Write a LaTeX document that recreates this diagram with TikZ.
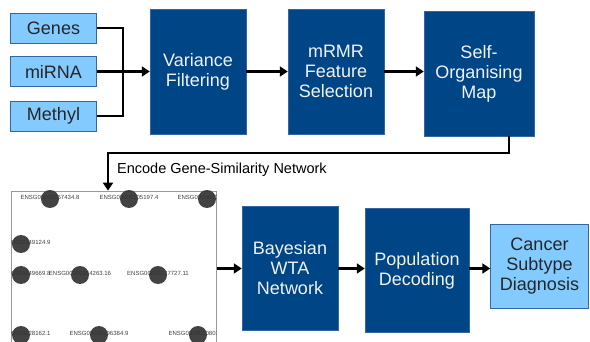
\documentclass[tikz,border=0pt]{standalone}
\usepackage{fontspec}
\setmainfont{Liberation Sans}
\usetikzlibrary{arrows.meta}
\definecolor{darkblue}{HTML}{004586}
\definecolor{lightblue}{HTML}{83CAFF}
\definecolor{boxline}{HTML}{3465A4}
\definecolor{somdot}{HTML}{333333}

\begin{document}
\begin{tikzpicture}[x=1pt,y=-1pt,
  stage/.style={draw=boxline,fill=darkblue,text=white!90!gray,inner sep=0pt,
    align=center,font=\fontsize{18}{20}\selectfont},
  source/.style={draw=boxline,fill=lightblue,text=black!85,inner sep=0pt,
    align=center,font=\fontsize{18}{20}\selectfont},
  flow/.style={line width=2.6pt,-{Triangle[length=8pt,width=10pt]}},
  link/.style={line width=2.6pt},
  gene/.style={font=\fontsize{6}{6}\selectfont,text=black!75,inner sep=0pt},
  dot/.style={circle,fill=somdot,minimum size=18pt,inner sep=0pt}]
  \useasboundingbox (0,0) rectangle (590,342);

  % Input data
  \node[source,minimum width=86pt,minimum height=30pt] (genes) at (53.5,28) {Genes};
  \node[source,minimum width=86pt,minimum height=30pt] (mirna) at (53.5,71.5) {miRNA};
  \node[source,minimum width=86pt,minimum height=30pt] (methyl) at (53.5,116) {Methyl};

  % Top pipeline
  \node[stage,minimum width=96pt,minimum height=125pt] (variance) at (198,71.5) {Variance\\Filtering};
  \node[stage,minimum width=96pt,minimum height=125pt] (mrmr) at (336,71.5) {mRMR\\Feature\\Selection};
  \node[stage,minimum width=110pt,minimum height=125pt] (som) at (479,73.5) {Self-\\Organising\\Map};

  \coordinate (join) at (123,71.5);
  \draw[link] (genes.east) -| (join);
  \draw[link] (methyl.east) -| (join);
  \draw[flow] (mirna.east) -- (variance.west);
  \draw[flow] (variance.east) -- (mrmr.west);
  \draw[flow] (mrmr.east) -- (mrmr.east -| som.west);

  % Gene-similarity map
  \node[draw=gray!80,line width=0.8pt,minimum width=205pt,minimum height=160pt,
    inner sep=0pt] (somimg) at (114,271) {};
  \begin{scope}
    \clip (somimg.north west) rectangle (somimg.south east);
    \foreach \gx/\gy/\gid [count=\i] in {50/199/ENSG00000167434.8,
        129/199/ENSG00000105197.4, 207/199/ENSG00000101057.5,
        21/244/ENSG00000149124.9, 21/275/ENSG00000249669.8,
        80/275/ENSG00000154263.16, 158/275/ENSG00000137727.11,
        21/335/ENSG00000228162.1, 99/335/ENSG00000196384.9,
        198/335/ENSG00000208018.1} {
      \node[gene] (g\i) at (\gx,\gy-1.5) {\gid};
      \node[dot,fill opacity=0.92] (d\i) at (\gx,\gy) {};
    }
  \end{scope}

  \coordinate (drop) at (108,153);
  \draw[flow] ([xshift=30pt]som.south) |- (drop) -- (drop |- somimg.north);
  \node[anchor=west,inner sep=0pt,font=\fontsize{14.5}{16}\selectfont] (encode)
    at (117,170) {Encode Gene-Similarity Network};

  % Bottom pipeline
  \node[stage,minimum width=96pt,minimum height=124pt] (bayes) at (290,268.5) {Bayesian\\WTA\\Network};
  \node[stage,minimum width=104pt,minimum height=124pt] (decode) at (417,270.5) {Population\\Decoding};
  \node[source,minimum width=98pt,minimum height=84pt] (diag) at (539.5,266.5) {Cancer\\Subtype\\Diagnosis};

  \draw[flow] (somimg.east |- bayes) -- (bayes.west);
  \draw[flow] (bayes.east) -- (bayes.east -| decode.west);
  \draw[flow] (decode.east |- bayes) -- (bayes -| diag.west);
\end{tikzpicture}
\end{document}
